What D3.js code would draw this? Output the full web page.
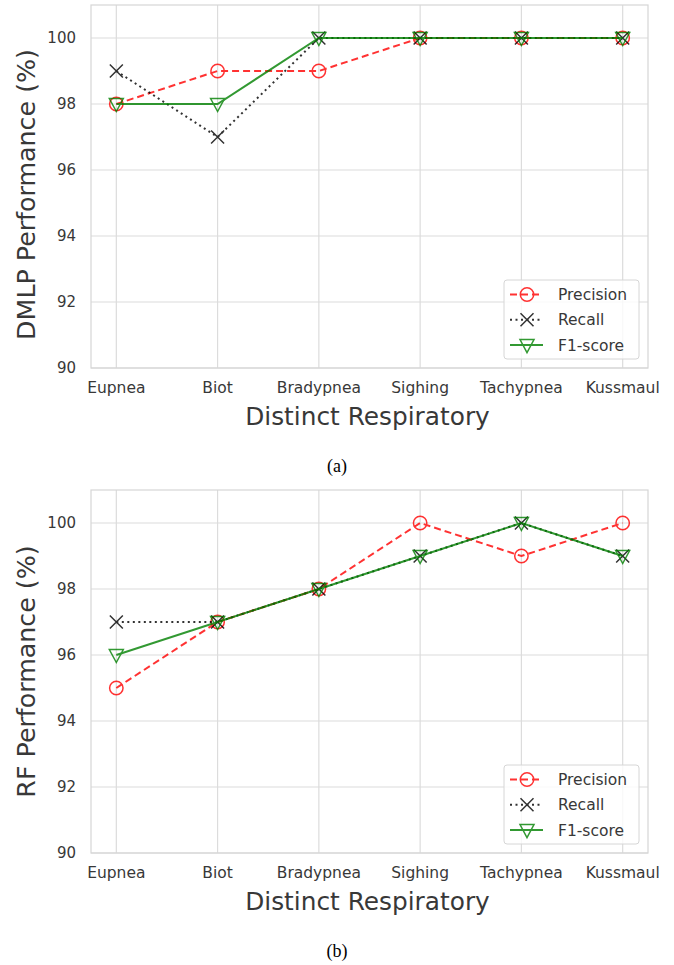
<!DOCTYPE html>
<html>
<head>
<meta charset="utf-8">
<script src="https://cdn.jsdelivr.net/npm/d3@7"></script>
<style>
    body { margin: 0; background: #fff; }
    svg { display: block; }
</style>
</head>
<body>
<div id="chart"></div>
<script>
// Categories and values
const categories = ['Eupnea', 'Biot', 'Bradypnea', 'Sighing', 'Tachypnea', 'Kussmaul'];
const yTicks = [90, 92, 94, 96, 98, 100];
const seriesNames = ['Precision', 'Recall', 'F1-score'];

const dmlpPrecision = [98, 99, 99, 100, 100, 100];
const dmlpRecall = [99, 97, 100, 100, 100, 100];
const dmlpF1 = [98, 98, 100, 100, 100, 100];

const rfPrecision = [95, 97, 98, 100, 99, 100];
const rfRecall = [97, 97, 98, 99, 100, 99];
const rfF1 = [96, 97, 98, 99, 100, 99];

const styles = {
    'Precision': { color: '#ff0000', dash: '7,4', marker: 'circle' },
    'Recall': { color: '#000000', dash: '2,3.5', marker: 'x' },
    'F1-score': { color: '#008000', dash: null, marker: 'tri' }
};

const width = 674, height = 965;
const svg = d3.select('#chart').append('svg')
    .attr('width', width)
    .attr('height', height);

const font = '"DejaVu Sans", sans-serif';

function drawMarker(sel, type, color) {
    if (type === 'circle') {
        sel.append('circle')
            .attr('r', 6.7)
            .attr('fill', 'none')
            .attr('stroke', color)
            .attr('stroke-width', 1.5);
    } else if (type === 'x') {
        sel.append('path')
            .attr('d', 'M-6.5,-6.5L6.5,6.5M-6.5,6.5L6.5,-6.5')
            .attr('stroke', color)
            .attr('stroke-width', 1.5);
    } else {
        sel.append('path')
            .attr('d', 'M-7,-5.5L7,-5.5L0,7.5Z')
            .attr('fill', 'none')
            .attr('stroke', color)
            .attr('stroke-width', 1.5)
            .attr('stroke-linejoin', 'miter');
    }
}

function drawPanel(top, yTitle, titleShift, values, caption) {
    const left = 91, right = 648, plotTop = top, plotBottom = top + 363;

    const x = d3.scaleLinear()
        .domain([-0.25, categories.length - 0.75])
        .range([left, right]);

    const y = d3.scaleLinear()
        .domain([90, 101])
        .range([plotBottom, plotTop]);

    const g = svg.append('g');

    // grid
    g.selectAll('.hgrid')
        .data(yTicks)
        .join('line')
        .attr('x1', left).attr('x2', right)
        .attr('y1', d => y(d)).attr('y2', d => y(d))
        .attr('stroke', '#dcdcdc')
        .attr('stroke-width', 1.2);

    g.selectAll('.vgrid')
        .data(categories)
        .join('line')
        .attr('x1', (d, i) => x(i)).attr('x2', (d, i) => x(i))
        .attr('y1', plotTop).attr('y2', plotBottom)
        .attr('stroke', '#dcdcdc')
        .attr('stroke-width', 1.2);

    // frame
    g.append('rect')
        .attr('x', left).attr('y', plotTop)
        .attr('width', right - left).attr('height', plotBottom - plotTop)
        .attr('fill', 'none')
        .attr('stroke', '#d6d6d6')
        .attr('stroke-width', 1.2);

    // tick labels
    g.selectAll('.ylab')
        .data(yTicks)
        .join('text')
        .attr('x', 76)
        .attr('y', d => y(d))
        .attr('dy', '0.35em')
        .attr('text-anchor', 'end')
        .style('font-family', font)
        .style('font-size', '15px')
        .style('fill', '#383838')
        .text(d => d);

    g.selectAll('.xlab')
        .data(categories)
        .join('text')
        .attr('x', (d, i) => x(i))
        .attr('y', plotBottom + 25)
        .attr('text-anchor', 'middle')
        .style('font-family', font)
        .style('font-size', '15.5px')
        .style('fill', '#383838')
        .text(d => d);

    // axis titles
    g.append('text')
        .attr('transform', `translate(35,${(plotTop + plotBottom) / 2 + titleShift}) rotate(-90)`)
        .attr('text-anchor', 'middle')
        .style('font-family', font)
        .style('font-size', '25.3px')
        .style('fill', '#383838')
        .text(yTitle);

    g.append('text')
        .attr('x', 367.5)
        .attr('y', plotBottom + 57)
        .attr('text-anchor', 'middle')
        .style('font-family', font)
        .style('font-size', '24.8px')
        .style('fill', '#383838')
        .text('Distinct Respiratory');

    // lines + markers
    const line = d3.line()
        .x((d, i) => x(i))
        .y(d => y(d));

    seriesNames.forEach((name, k) => {
        const st = styles[name];
        const s = g.append('g').attr('opacity', 0.8);
        s.append('path')
            .datum(values[k])
            .attr('d', line)
            .attr('fill', 'none')
            .attr('stroke', st.color)
            .attr('stroke-width', 2)
            .attr('stroke-dasharray', st.dash);

        s.selectAll('.pt')
            .data(values[k])
            .join('g')
            .attr('transform', (d, i) => `translate(${x(i)},${y(d)})`)
            .each(function () { drawMarker(d3.select(this), st.marker, st.color); });
    });

    // legend
    const lg = g.append('g').attr('transform', `translate(504,${plotBottom - 88})`);
    lg.append('rect')
        .attr('width', 135).attr('height', 79)
        .attr('rx', 3)
        .attr('fill', 'rgba(255,255,255,0.8)')
        .attr('stroke', '#d6d6d6')
        .attr('stroke-width', 1);

    seriesNames.forEach((name, k) => {
        const st = styles[name];
        const row = lg.append('g').attr('transform', `translate(0,${14.5 + k * 25.3})`);
        const item = row.append('g').attr('opacity', 0.8);
        item.append('line')
            .attr('x1', 6).attr('x2', 39)
            .attr('stroke', st.color)
            .attr('stroke-width', 2)
            .attr('stroke-dasharray', st.dash);
        const m = item.append('g').attr('transform', 'translate(23,0)');
        drawMarker(m, st.marker, st.color);
        row.append('text')
            .attr('x', 54)
            .attr('dy', '0.35em')
            .style('font-family', font)
            .style('font-size', '15.5px')
            .style('fill', '#383838')
            .text(name);
    });

    // caption
    svg.append('text')
        .attr('x', 337)
        .attr('y', plotBottom + 104)
        .attr('text-anchor', 'middle')
        .style('font-family', '"Liberation Serif", serif')
        .style('font-size', '18px')
        .style('fill', '#000')
        .text(caption);
}

drawPanel(5, 'DMLP Performance (%)', 8, [dmlpPrecision, dmlpRecall, dmlpF1], '(a)');
drawPanel(490, 'RF Performance (%)', 0, [rfPrecision, rfRecall, rfF1], '(b)');
</script>
</body>
</html>
